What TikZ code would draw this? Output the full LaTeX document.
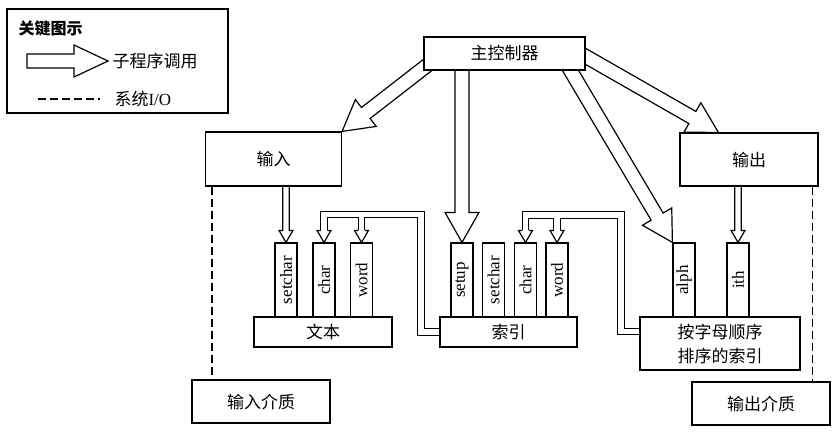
\documentclass[tikz,border=0pt]{standalone}
\usepackage{fontspec}
\usepackage{graphicx}
\setmainfont{Liberation Serif}
\newfontfamily\cjk{Noto Sans CJK SC}
\usetikzlibrary{calc,backgrounds}

\tikzset{
  box/.style={draw, fill=white, line width=1.2pt, inner sep=2pt,
    font=\cjk\fontsize{17}{24}\selectfont},
  col/.style={draw, fill=white, line width=1.2pt, inner sep=0pt,
    minimum width=22pt, minimum height=74pt, font=\fontsize{17}{18}\selectfont},
  callline/.style={draw, fill=white, line width=1.2pt},
  iodash/.style={line width=1.2pt, dash pattern=on 8pt off 4pt},
  pipe/.style={double, double distance=5.3pt, line width=1.2pt},
}

% hollow call arrow: tail, tip, shaft half width, head half width, head length
\newcommand{\callarrow}[5]{%
  \coordinate (hb) at ($(#2)!#5!(#1)$);
  \path[callline] ($(#1)!#3!90:(#2)$) -- ($(hb)!#3!90:(#2)$) -- ($(hb)!#4!90:(#2)$) -- (#2)
    -- ($(hb)!#4!-90:(#2)$) -- ($(hb)!#3!-90:(#2)$) -- ($(#1)!#3!-90:(#2)$) -- cycle;
}
% open head on a pipe, tip at #1
\newcommand{\pipehead}[1]{%
  \path[callline] ($(#1)+(-3.25,-12)$) -- ++(-3.75,0) -- (#1) -- ++(7,-12) -- ++(-3.75,0);
}

\begin{document}
\begin{tikzpicture}[x=1pt, y=-1pt]
\useasboundingbox (0,0) rectangle (840,440);

% key
\draw[line width=1.2pt] (7,9) rectangle (228,113);
\node[anchor=west, font=\cjk\bfseries\fontsize{16}{18}\selectfont] (key) at (15,28) {关键图示};
\coordinate (ka) at (27,61);
\coordinate (kb) at (108,61);
\node[anchor=west, font=\cjk\fontsize{17}{18}\selectfont] (keycall) at (109,61) {子程序调用};
\coordinate (kc) at (38,99);
\coordinate (kd) at (100,99);
\node[anchor=west, font=\fontsize{17}{18}\selectfont] (keyio) at (111,99) {{\cjk 系统}I/O};
\callarrow{ka}{kb}{7pt}{16pt}{34pt}
\draw[iodash] (kc) -- (kd);

% modules
\node[box, minimum width=161pt, minimum height=33pt] (main) at (504.5,53.5) {主控制器};
\node[box, minimum width=136pt, minimum height=54pt] (in) at (273.5,159) {输入};
\node[box, minimum width=138pt, minimum height=53pt] (out) at (749,159.5) {输出};
\node[box, minimum width=138pt, minimum height=30pt] (text) at (323,332) {文本};
\node[box, minimum width=137pt, minimum height=30pt] (index) at (508.5,332) {索引};
\node[box, minimum width=160pt, minimum height=53pt, align=center] (alpha) at (720,343.5) {按字母顺序\\排序的索引};
\node[box, minimum width=138pt, minimum height=43pt] (inmedia) at (261,401.5) {输入介质};
\node[box, minimum width=138pt, minimum height=43pt] (outmedia) at (761,403.5) {输出介质};

% entry points
\foreach \x/\n/\t in {286/ts/setchar, 324/tc/char, 361.5/tw/word,
    462/is/setup, 493.5/ix/setchar, 525.5/ic/char, 557/iw/word,
    684/al/alph, 738/it/ith}
  \node[col] (\n) at (\x,280) {\rotatebox{90}{\t}};

% system I/O
\draw[iodash] ($(in.south west)+(7,0)$) coordinate (inio) -- (inio |- inmedia.north);
\draw[iodash] ($(out.south east)+(-6,0)$) coordinate (outio) -- (outio |- outmedia.north);

% calls
\begin{scope}[on background layer]
  \coordinate (m1) at ($(main.south west)+(6,-7)$);
  \coordinate (m2) at ($(main.south -| is)+(0,-10)$);
  \coordinate (m3) at ($(main.south east)+(-18,-5)$);
  \coordinate (m4) at ($(main.east)+(-5,0)$);
  \coordinate (outtip) at ($(out.north west)+(39,0)$);
  \callarrow{m1}{in.north east}{7pt}{17pt}{30pt}
  \callarrow{m2}{is.north}{7pt}{17pt}{30pt}
  \callarrow{m3}{al.north west}{7pt}{17pt}{30pt}
  \callarrow{m4}{outtip}{7pt}{17pt}{30pt}
  \coordinate (i1) at ($(in.south -| ts)+(0,-5)$);
  \coordinate (o1) at ($(out.south -| it)+(0,-5)$);
  \callarrow{i1}{ts.north}{3.25pt}{7pt}{12pt}
  \callarrow{o1}{it.north}{3.25pt}{7pt}{12pt}
  \coordinate (tp) at (421,214.5);
  \coordinate (ip) at (621,215);
  \draw[pipe] ($(index.west)+(4,0)$) -| (tp) -| ($(tc.north)+(0,-12)$)
    (tw.north |- tp) -- ($(tw.north)+(0,-12)$);
  \draw[pipe] ($(alpha.north west)+(4,15)$) -| (ip) -| ($(ic.north)+(0,-12)$)
    (iw.north |- ip) -- ($(iw.north)+(0,-12)$);
  \pipehead{tc.north}
  \pipehead{tw.north}
  \pipehead{ic.north}
  \pipehead{iw.north}
\end{scope}
\end{tikzpicture}
\end{document}
